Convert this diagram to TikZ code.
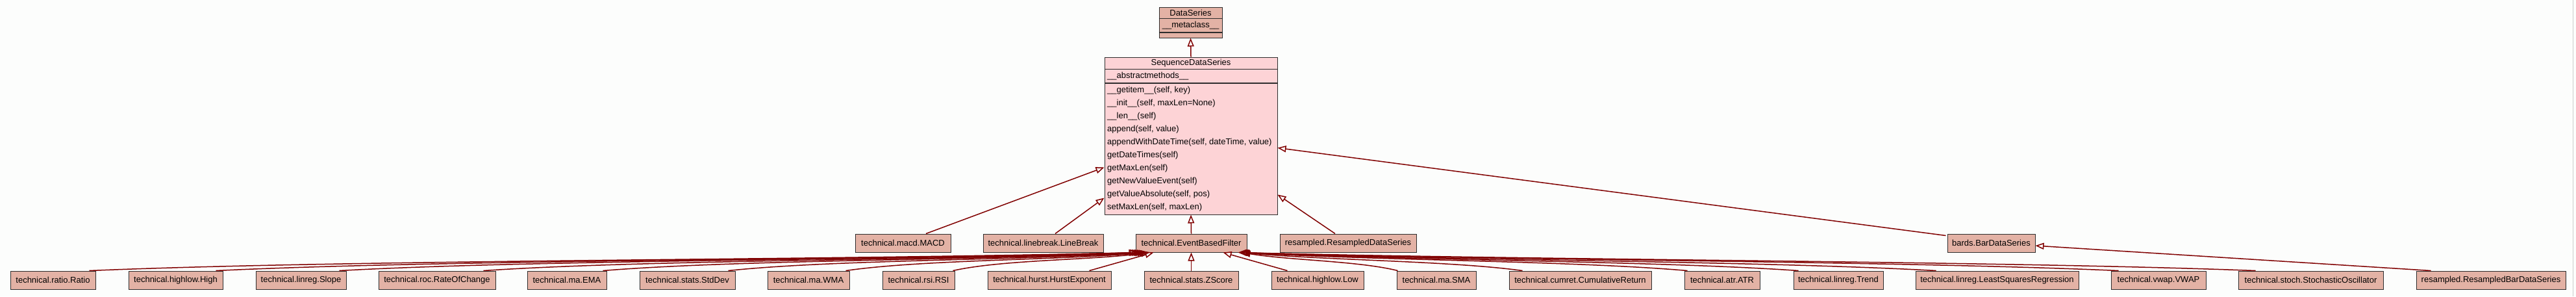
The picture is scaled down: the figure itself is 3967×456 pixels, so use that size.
\documentclass[tikz,border=0pt]{standalone}
\usepackage{fontspec}
\setmainfont{Liberation Sans}
\usetikzlibrary{arrows.meta,calc}
\definecolor{edgecol}{RGB}{128,0,0}
\definecolor{boxfill}{RGB}{227,178,165}
\definecolor{sdsfill}{RGB}{253,211,214}
\definecolor{bordercol}{RGB}{45,45,45}
\definecolor{bgcol}{RGB}{252,253,252}
\begin{document}
\begin{tikzpicture}[x=1pt,y=-1pt,
  cls/.style={draw=bordercol, line width=1pt, fill=boxfill, minimum height=28pt, inner sep=0pt, font=\fontsize{13}{15}\selectfont, anchor=center},
  inh/.style={draw=edgecol, line width=1.5pt, -{Triangle[open,length=13pt,width=10pt]}},
  lbl/.style={font=\fontsize{13}{15}\selectfont, inner sep=0pt},
  sep/.style={draw=bordercol, line width=1pt},
]
\fill[bgcol] (0,0) rectangle (3967,456);
\useasboundingbox (0,0) rectangle (3967,456);
\draw[gray!40, line width=1pt] (3962,0) -- (3962,456);

% top classes
\node[cls, minimum width=97pt, minimum height=47pt] (ds) at (1833.5,34.5) {};
\node[lbl] (dstitle) at (1833.5,19.5) {DataSeries};
\node[lbl] (dsattr) at (1833.5,39) {\_\_metaclass\_\_};
\draw[sep] (ds.west |- 0,28) -- (ds.east |- 0,28);
\draw[sep, line width=1.5pt] (ds.west |- 0,50) -- (ds.east |- 0,50);

\node[cls, fill=sdsfill, minimum width=266pt, minimum height=242pt] (sds) at (1834,209) {};
\node[lbl] (sdstitle) at (1834,97) {SequenceDataSeries};
\draw[sep] (sds.west |- 0,106) -- (sds.east |- 0,106);
\draw[sep, line width=1.5pt] (sds.west |- 0,128) -- (sds.east |- 0,128);
\node[lbl, anchor=west] (sdsattr) at (1705,117) {\_\_abstractmethods\_\_};
\node[lbl, anchor=west] (m1) at (1705,139) {\_\_getitem\_\_(self, key)};
\node[lbl, anchor=west] (m2) at (1705,159) {\_\_init\_\_(self, maxLen=None)};
\node[lbl, anchor=west] (m3) at (1705,179) {\_\_len\_\_(self)};
\node[lbl, anchor=west] (m4) at (1705,199) {append(self, value)};
\node[lbl, anchor=west] (m5) at (1705,219) {appendWithDateTime(self, dateTime, value)};
\node[lbl, anchor=west] (m6) at (1705,239) {getDateTimes(self)};
\node[lbl, anchor=west] (m7) at (1705,259) {getMaxLen(self)};
\node[lbl, anchor=west] (m8) at (1705,279) {getNewValueEvent(self)};
\node[lbl, anchor=west] (m9) at (1705,299) {getValueAbsolute(self, pos)};
\node[lbl, anchor=west] (m10) at (1705,319) {setMaxLen(self, maxLen)};

% middle row
\node[cls, minimum width=147pt] (macd) at (1390.5,374) {technical.macd.MACD};
\node[cls, minimum width=185pt] (linebreak) at (1606.5,374) {technical.linebreak.LineBreak};
\node[cls, minimum width=171pt] (ebf) at (1834.5,374) {technical.EventBasedFilter};
\node[cls, minimum width=210pt] (rds) at (2076,374) {resampled.ResampledDataSeries};
\node[cls, minimum width=135pt] (bds) at (3066.5,374) {bards.BarDataSeries};

% bottom row
\node[cls, minimum width=131pt] (ratio) at (81.5,431) {technical.ratio.Ratio};
\node[cls, minimum width=145pt] (high) at (270.5,431) {technical.highlow.High};
\node[cls, minimum width=139pt] (slope) at (463.5,431) {technical.linreg.Slope};
\node[cls, minimum width=180pt] (roc) at (673,431) {technical.roc.RateOfChange};
\node[cls, minimum width=122pt] (ema) at (873,431) {technical.ma.EMA};
\node[cls, minimum width=147pt] (stddev) at (1058.5,431) {technical.stats.StdDev};
\node[cls, minimum width=126pt] (wma) at (1245,431) {technical.ma.WMA};
\node[cls, minimum width=111pt] (rsi) at (1414.5,431) {technical.rsi.RSI};
\node[cls, minimum width=190pt] (hurst) at (1616,431) {technical.hurst.HurstExponent};
\node[cls, minimum width=145pt] (zscore) at (1834.5,431) {technical.stats.ZScore};
\node[cls, minimum width=142pt] (low) at (2029,431) {technical.highlow.Low};
\node[cls, minimum width=122pt] (sma) at (2212,431) {technical.ma.SMA};
\node[cls, minimum width=219pt] (cumret) at (2433.5,431) {technical.cumret.CumulativeReturn};
\node[cls, minimum width=116pt] (atr) at (2652,431) {technical.atr.ATR};
\node[cls, minimum width=138pt] (trend) at (2831,431) {technical.linreg.Trend};
\node[cls, minimum width=251pt] (lsr) at (3075.5,431) {technical.linreg.LeastSquaresRegression};
\node[cls, minimum width=146pt] (vwap) at (3324,431) {technical.vwap.VWAP};
\node[cls, minimum width=223pt] (stoch) at (3558.5,431) {technical.stoch.StochasticOscillator};
\node[cls, minimum width=230pt] (rbds) at (3836,431) {resampled.ResampledBarDataSeries};

% inheritance edges
\draw[inh] (sds.north) -- (ds.south);
\draw[inh] ($(macd.north)+(35.5,0)$) -- ($(sds.north west)+(0,170)$);
\draw[inh] ($(linebreak.north)+(18.5,0)$) -- ($(sds.north west)+(0,217)$);
\draw[inh] (ebf.north) -- (sds.south);
\draw[inh] ($(rds.north)+(-20,0)$) -- ($(sds.north east)+(0,212)$);
\draw[inh] ($(bds.north west)+(-2,3)$) -- ($(sds.north east)+(0,140)$);
\draw[inh] ($(rbds.north west)+(23,0)$) -- ($(bds.east)+(0,4)$);

% left group to EventBasedFilter
\draw[inh] ($(ratio.north east)+(-10,0)$) .. controls +(404,-17) and +(-485,12) .. ($(ebf.south west)+(3,0)$);
\draw[inh] ($(high.north east)+(-11,0)$) .. controls +(356,-17) and +(-427,12) .. ($(ebf.south west)+(5,0)$);
\draw[inh] ($(slope.north east)+(-11,0)$) .. controls +(309,-17) and +(-371,12) .. ($(ebf.south west)+(8,0)$);
\draw[inh] ($(roc.north east)+(-19,0)$) .. controls +(254,-17) and +(-305,12) .. ($(ebf.south west)+(11,0)$);
\draw[inh] ($(ema.north east)+(-6,0)$) .. controls +(209,-17) and +(-250,12) .. ($(ebf.south west)+(13,0)$);
\draw[inh] ($(stddev.north east)+(-11,0)$) .. controls +(161,-17) and +(-193,12) .. ($(ebf.south west)+(16,0)$);
\draw[inh] ($(wma.north east)+(-6,0)$) .. controls +(117,-17) and +(-140,12) .. ($(ebf.south west)+(19,0)$);
\draw[inh] ($(rsi.north east)+(-3,0)$) .. controls +(76,-17) and +(-91,12) .. ($(ebf.south west)+(22,0)$);
\draw[inh] ($(hurst.north east)+(-34,0)$) -- ($(ebf.south west)+(28,0)$);
\draw[inh] (zscore.north) -- (ebf.south);
\draw[inh] ($(low.north west)+(25,0)$) -- ($(ebf.south east)+(-37,0)$);

% right group to EventBasedFilter
\draw[inh] ($(sma.north west)+(2,0)$) .. controls +(-60,-15) and +(72,12) .. ($(ebf.south east)+(-8,0)$);
\draw[inh] ($(cumret.north west)+(21,0)$) .. controls +(-109,-15) and +(130,12) .. ($(ebf.south east)+(-9,0)$);
\draw[inh] ($(atr.north west)+(5,0)$) .. controls +(-172,-15) and +(207,12) .. ($(ebf.south east)+(-10,0)$);
\draw[inh] ($(trend.north west)+(8,0)$) .. controls +(-215,-15) and +(258,12) .. ($(ebf.south east)+(-11,0)$);
\draw[inh] ($(lsr.north west)+(32,0)$) .. controls +(-269,-15) and +(322,12) .. ($(ebf.south east)+(-12,0)$);
\draw[inh] ($(vwap.north west)+(12,0)$) .. controls +(-339,-15) and +(407,12) .. ($(ebf.south east)+(-13,0)$);
\draw[inh] ($(stoch.north west)+(27,0)$) .. controls +(-392,-15) and +(470,12) .. ($(ebf.south east)+(-14,0)$);
\end{tikzpicture}
\end{document}
